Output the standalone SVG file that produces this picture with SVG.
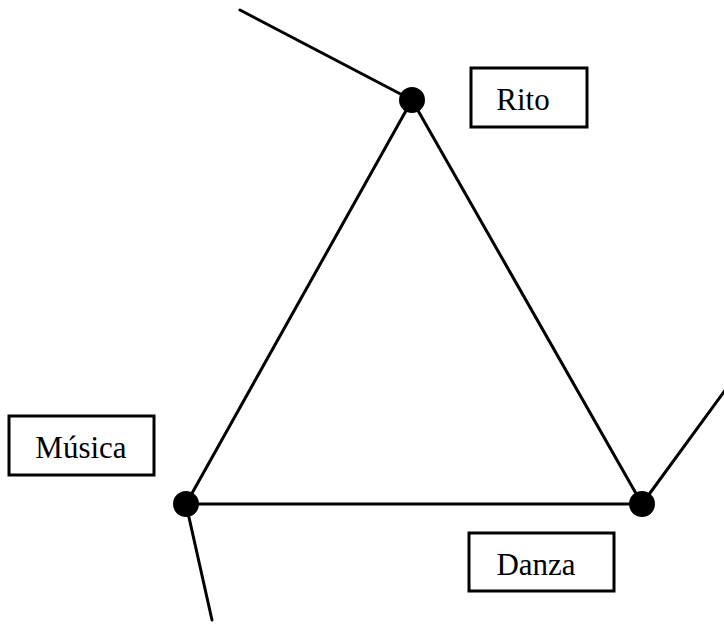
<svg xmlns="http://www.w3.org/2000/svg" width="724" height="625" viewBox="0 0 724 625">
<style>
.ln{stroke:#000;stroke-width:3;fill:none;stroke-linecap:round}
.box{fill:#fff;stroke:#000;stroke-width:3}
.lbl{font-family:"Liberation Serif",serif;font-size:31px;fill:#000;text-anchor:middle}
.dot{fill:#000}
</style>
<rect width="724" height="625" fill="#fff"/>
<g id="connectors">
<line class="ln" x1="240" y1="10" x2="412" y2="100"/>
<line class="ln" x1="412" y1="100" x2="186" y2="504"/>
<line class="ln" x1="412" y1="100" x2="642" y2="504"/>
<line class="ln" x1="186" y1="504" x2="642" y2="504"/>
<line class="ln" x1="642" y1="504" x2="726" y2="389"/>
<line class="ln" x1="186" y1="504" x2="212" y2="620"/>
</g>
<g id="node-rito">
<circle class="dot" cx="412" cy="100" r="13"/>
<rect class="box" x="471" y="68" width="116" height="59"/>
<text class="lbl" x="523" y="110">Rito</text>
</g>
<g id="node-musica">
<circle class="dot" cx="186" cy="504" r="13"/>
<rect class="box" x="9" y="416" width="145" height="59"/>
<text class="lbl" x="81" y="458">Música</text>
</g>
<g id="node-danza">
<circle class="dot" cx="642" cy="504" r="13"/>
<rect class="box" x="469" y="533" width="145" height="58"/>
<text class="lbl" x="536" y="575">Danza</text>
</g>
</svg>
